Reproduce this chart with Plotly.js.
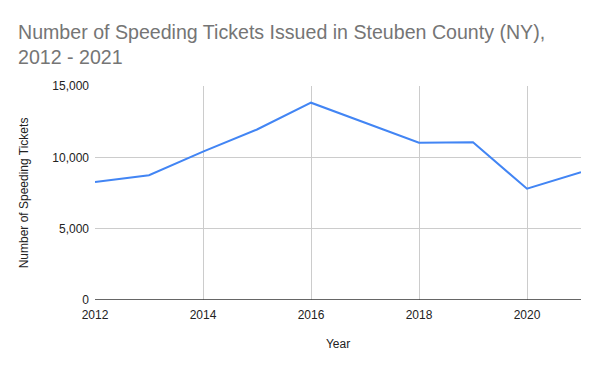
<!DOCTYPE html>
<html>
<head>
<meta charset="utf-8">
<script src="https://cdn.plot.ly/plotly-3.0.1.min.js"></script>
<style>html,body{margin:0;padding:0;background:#fff;}#chart{width:600px;height:371px;}</style>
</head>
<body>
<div id="chart"></div>
<script>
var years = [2012, 2013, 2014, 2015, 2016, 2017, 2018, 2019, 2020, 2021];
var tickets = [8270, 8750, 10400, 11950, 13830, 12430, 11030, 11050, 7800, 8950];
var xTicks = [2012, 2014, 2016, 2018, 2020];
var yTicks = [0, 5000, 10000, 15000];
var yTickLabels = ["0", "5,000", "10,000", "15,000"];
var titleText = 'Number of Speeding Tickets Issued in Steuben County (NY),<br>2012 - 2021';

var trace = {
  x: years, y: tickets, type: 'scatter', mode: 'lines',
  line: {color: '#4285F4', width: 2},
  hoverinfo: 'none'
};
var layout = {
  width: 600, height: 371,
  margin: {l: 95, r: 19, t: 86, b: 71},
  paper_bgcolor: '#fff', plot_bgcolor: '#fff',
  font: {family: 'Liberation Sans, Arial, sans-serif', size: 11, color: '#222'},
  showlegend: false,
  annotations: [{
    text: titleText, xref: 'paper', yref: 'paper', x: -0.162, y: 1.315,
    xanchor: 'left', yanchor: 'top', align: 'left', showarrow: false,
    font: {size: 19.6, color: '#757575', family: 'Liberation Sans, Arial, sans-serif'}
  }],
  xaxis: {
    range: [2012, 2021], tickvals: xTicks, ticktext: xTicks.map(String),
    showgrid: true, gridcolor: '#cccccc', gridwidth: 1,
    zeroline: false, showline: false, ticks: '', ticklabelstandoff: 6,
    tickfont: {size: 12, color: '#222'},
    title: {text: 'Year', font: {size: 12, color: '#222'}, standoff: 18}
  },
  yaxis: {
    range: [0, 15000], tickvals: yTicks, ticktext: yTickLabels,
    showgrid: true, gridcolor: '#cccccc', gridwidth: 1,
    zeroline: false, showline: false, ticks: '', ticklabelstandoff: 5,
    tickfont: {size: 12, color: '#222'},
    title: {text: 'Number of Speeding Tickets', font: {size: 12, color: '#222'}, standoff: 21}
  },
  shapes: [{type: 'line', xref: 'paper', yref: 'y', x0: 0, x1: 1, y0: 0, y1: 0, line: {color: '#333', width: 1.5}}]
};
Plotly.newPlot('chart', [trace], layout, {displayModeBar: false, staticPlot: true});
</script>
</body>
</html>
